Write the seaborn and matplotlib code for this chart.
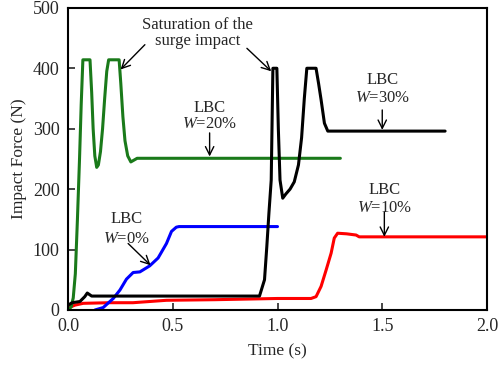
import numpy as np
import pandas as pd
import matplotlib
matplotlib.use("Agg")
import matplotlib.pyplot as plt
import seaborn as sns

# ---- data ----
t_w20 = [0.0, 0.015, 0.025, 0.035, 0.045, 0.055, 0.063, 0.071, 0.105, 0.113, 0.12, 0.128,
         0.137, 0.145, 0.155, 0.165, 0.175, 0.185, 0.194, 0.244, 0.252, 0.262, 0.272,
         0.285, 0.30, 0.315, 0.33, 0.5, 0.8, 1.0, 1.30]
v_w20 = [0, 5, 20, 60, 150, 250, 340, 414, 414, 360, 300, 255,
         236, 240, 262, 300, 350, 395, 414, 414, 375, 320, 280,
         255, 245, 248, 251, 251, 251, 251, 251]

t_w30 = [0.0, 0.02, 0.057, 0.08, 0.092, 0.113, 0.3, 0.6, 0.914, 0.938, 0.949, 0.959, 0.97,
         0.978, 0.997, 1.004, 1.012, 1.025, 1.04, 1.06, 1.08, 1.10, 1.115, 1.128, 1.14,
         1.184, 1.196, 1.208, 1.224, 1.24, 1.4, 1.6, 1.80]
v_w30 = [8, 12, 14, 22, 28, 23, 23, 23, 23, 50, 105, 160, 215,
         400, 400, 300, 215, 185, 192, 200, 212, 240, 285, 350, 400,
         400, 375, 348, 309, 296, 296, 296, 296]

t_w0 = [0.129, 0.168, 0.216, 0.248, 0.279, 0.311, 0.343, 0.39, 0.43, 0.47, 0.494, 0.517,
        0.53, 0.7, 0.85, 1.0]
v_w0 = [0, 4, 19, 33, 51, 62, 63, 73, 86, 110, 130, 137,
        138, 138, 138, 138]

t_w10 = [0.0, 0.033, 0.073, 0.2, 0.31, 0.47, 0.7, 0.85, 1.0, 1.16, 1.184, 1.208, 1.232,
         1.256, 1.271, 1.287, 1.33, 1.375, 1.39, 1.6, 1.8, 2.0]
v_w10 = [3, 8, 11, 12, 12, 16, 17, 18, 19, 19, 22, 39, 66,
         94, 119, 127, 126, 124, 121, 121, 121, 121]

series_names = ["W=10%", "W=20%", "W=0%", "W=30%"]
series_colors = ["#ff0000", "#1a7a1a", "#0000ff", "#000000"]

x_ticks = [0.0, 0.5, 1.0, 1.5, 2.0]
y_ticks = [0, 100, 200, 300, 400, 500]

frames = []
for name, t, v in [("W=10%", t_w10, v_w10), ("W=20%", t_w20, v_w20),
                   ("W=0%", t_w0, v_w0), ("W=30%", t_w30, v_w30)]:
    frames.append(pd.DataFrame({"t": t, "v": v, "series": name}))
df = pd.concat(frames, ignore_index=True)

# ---- style ----
sns.set_style("ticks")
plt.rcParams["font.family"] = ["Liberation Serif", "DejaVu Serif"]
plt.rcParams["mathtext.fontset"] = "custom"
plt.rcParams["mathtext.rm"] = "Liberation Serif"
plt.rcParams["mathtext.it"] = "Liberation Serif:italic"

fig = plt.figure(figsize=(5.0, 3.73), dpi=100)
ax = fig.add_axes([0.136, 0.169, 0.838, 0.81])

sns.lineplot(data=df, x="t", y="v", hue="series", hue_order=series_names,
             palette=dict(zip(series_names, series_colors)), estimator=None,
             sort=False, legend=False, linewidth=2.2, ax=ax)

ax.set_xlim(0, 2.0)
ax.set_ylim(0, 500)
ax.set_xticks(x_ticks)
ax.set_xticklabels([f"{x:.1f}" for x in x_ticks])
ax.set_yticks(y_ticks)
ax.tick_params(direction="in", length=5, width=1.2, labelsize=13, pad=6,
               top=False, right=False)
for s in ax.spines.values():
    s.set_linewidth(1.5)
    s.set_color("black")
ax.set_xlabel("Time (s)", fontsize=12.5, labelpad=6)
ax.set_ylabel("Impact Force (N)", fontsize=12.5, labelpad=4)

fs = 12
arrow = dict(arrowstyle="->", lw=1.0, color="black", mutation_scale=15,
             shrinkA=0, shrinkB=0)

ax.text(0.617, 458, "Saturation of the\nsurge impact", ha="center", va="center",
        fontsize=fs, linespacing=1.0)
ax.annotate("", xy=(0.251, 398), xytext=(0.367, 439), arrowprops=arrow)
ax.annotate("", xy=(0.97, 395), xytext=(0.854, 433), arrowprops=arrow)

labels = [
    (0.676, 334, 308, "20%", 293, 254),
    (1.50, 381, 350, "30%", 331, 298),
    (1.51, 199, 169, "10%", 162, 121),
]
for x, y1, y2, pct, a0, a1 in labels:
    ax.text(x, y1, "LBC", ha="center", va="center", fontsize=fs)
    ax.text(x, y2, "$W$=" + pct, ha="center", va="center", fontsize=fs)
    ax.annotate("", xy=(x, a1), xytext=(x, a0), arrowprops=arrow)

ax.text(0.279, 150, "LBC", ha="center", va="center", fontsize=fs)
ax.text(0.279, 117, "$W$=0%", ha="center", va="center", fontsize=fs)
ax.annotate("", xy=(0.394, 74), xytext=(0.287, 110), arrowprops=arrow)

fig.savefig("out.png", dpi=100)
